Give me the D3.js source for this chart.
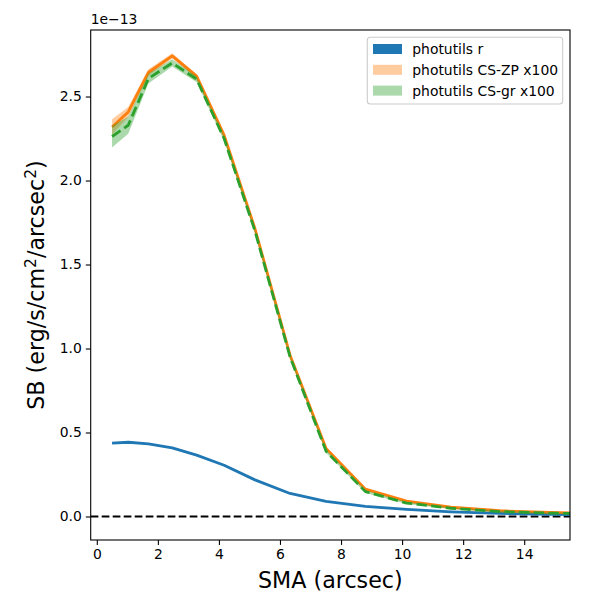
<!DOCTYPE html>
<html>
<head>
<meta charset="utf-8">
<script src="https://cdn.jsdelivr.net/npm/d3@7"></script>
<style>
  body { margin:0; background:#ffffff; }
  text { font-family:"DejaVu Sans", sans-serif; fill:#000000; }
</style>
</head>
<body>
<div id="chart_container"></div>
<script>
// Surface brightness values are in units of 1e-13 erg/s/cm2/arcsec2.
var sma_arcsec      = [0.5, 1.03, 1.69, 2.47, 3.27, 4.17, 5.18, 6.33, 7.51, 8.80, 10.15, 11.60, 13.20, 14.85, 16.60];
var sb_r            = [0.437, 0.442, 0.432, 0.408, 0.365, 0.305, 0.218, 0.137, 0.090, 0.060, 0.042, 0.028, 0.018, 0.013, 0.009];
var sb_r_err        = [0.004, 0.004, 0.004, 0.003, 0.003, 0.003, 0.003, 0.002, 0.002, 0.002, 0.002, 0.002, 0.002, 0.002, 0.002];
var sb_cs_zp        = [2.319, 2.408, 2.643, 2.742, 2.621, 2.270, 1.714, 0.960, 0.405, 0.163, 0.091, 0.055, 0.034, 0.024, 0.018];
var sb_cs_zp_err    = [0.045, 0.030, 0.020, 0.015, 0.012, 0.010, 0.008, 0.007, 0.006, 0.005, 0.004, 0.004, 0.003, 0.003, 0.003];
var sb_cs_gr        = [2.262, 2.329, 2.607, 2.700, 2.603, 2.250, 1.700, 0.950, 0.388, 0.148, 0.080, 0.049, 0.029, 0.020, 0.015];
var sb_cs_gr_err    = [0.065, 0.050, 0.030, 0.022, 0.018, 0.015, 0.012, 0.010, 0.009, 0.008, 0.006, 0.005, 0.005, 0.004, 0.004];
var x_tick_values   = [0, 2, 4, 6, 8, 10, 12, 14];
var y_tick_values   = [0.0, 0.5, 1.0, 1.5, 2.0, 2.5];
var legend_labels   = ["photutils r", "photutils CS-ZP x100", "photutils CS-gr x100"];

var chart_dimension = { height:600, width:600 };
var chart_box       = { left:90.7, right:570, top:30, bottom:540 };

var scale_x = d3.scaleLinear().domain([-0.2, 15.5]).range([chart_box.left, chart_box.right]);
var scale_y = d3.scaleLinear().domain([-0.14, 2.896]).range([chart_box.bottom, chart_box.top]);

var chart_svg = d3.select("#chart_container").append("svg")
  .attr("height", chart_dimension.height)
  .attr("width" , chart_dimension.width);

chart_svg.append("defs").append("clipPath")
  .attr("id", "plot_clip")
  .append("rect")
  .attr("x"     , chart_box.left)
  .attr("y"     , chart_box.top)
  .attr("width" , chart_box.right - chart_box.left)
  .attr("height", chart_box.bottom - chart_box.top);

var plot_group = chart_svg.append("g").attr("clip-path", "url(#plot_clip)");

// Zero reference line.
plot_group.append("line")
  .attr("x1", chart_box.left)
  .attr("x2", chart_box.right)
  .attr("y1", scale_y(0))
  .attr("y2", scale_y(0))
  .style("stroke", "#000000")
  .style("stroke-width", 2)
  .style("stroke-dasharray", "7.7,3.3");

function draw_profile (_values, _errors, _color, _band_opacity, _dash) {
  var rows = sma_arcsec.map(function (d, i) {
    return { x:d, y:_values[i], e:_errors[i] };
  });
  var band = d3.area()
    .x (function (d) { return scale_x(d.x); })
    .y0(function (d) { return scale_y(d.y - d.e); })
    .y1(function (d) { return scale_y(d.y + d.e); });
  var line = d3.line()
    .x(function (d) { return scale_x(d.x); })
    .y(function (d) { return scale_y(d.y); });
  plot_group.append("path")
    .attr("d", band(rows))
    .style("fill", _color)
    .style("fill-opacity", _band_opacity)
    .style("stroke", "none");
  plot_group.append("path")
    .attr("d", line(rows))
    .style("fill", "none")
    .style("stroke", _color)
    .style("stroke-width", 2.8)
    .style("stroke-linejoin", "round")
    .style("stroke-dasharray", _dash);
}

draw_profile(sb_r    , sb_r_err    , "#1f77b4", 1.0, null);
draw_profile(sb_cs_zp, sb_cs_zp_err, "#ff7f0e", 0.4, null);
draw_profile(sb_cs_gr, sb_cs_gr_err, "#2ca02c", 0.4, "10.3,4.4");

// Axes.
var axis_x = d3.axisBottom(scale_x).tickValues(x_tick_values).tickSize(4.9).tickPadding(4).tickFormat(d3.format("d"));
var axis_y = d3.axisLeft(scale_y).tickValues(y_tick_values).tickSize(4.9).tickPadding(4).tickFormat(d3.format(".1f"));

var axis_x_group = chart_svg.append("g")
  .attr("transform", "translate(0," + chart_box.bottom + ")")
  .call(axis_x);
var axis_y_group = chart_svg.append("g")
  .attr("transform", "translate(" + chart_box.left + ",0)")
  .call(axis_y);

[axis_x_group, axis_y_group].forEach(function (g) {
  g.select(".domain").remove();
  g.selectAll(".tick line").style("stroke", "#000000").style("stroke-width", 1.1);
  g.selectAll(".tick text")
    .style("font-family", "DejaVu Sans")
    .style("font-size", "13.9px")
    .style("fill", "#000000");
});

chart_svg.append("rect")
  .attr("x"     , chart_box.left)
  .attr("y"     , chart_box.top)
  .attr("width" , chart_box.right - chart_box.left)
  .attr("height", chart_box.bottom - chart_box.top)
  .style("fill", "none")
  .style("stroke", "#000000")
  .style("stroke-width", 1.1);

// Offset text and axis labels.
chart_svg.append("text")
  .attr("x", chart_box.left)
  .attr("y", chart_box.top - 6)
  .style("font-size", "13.9px")
  .text("1e\u221213");

chart_svg.append("text")
  .attr("x", (chart_box.left + chart_box.right)/2)
  .attr("y", 588)
  .attr("text-anchor", "middle")
  .style("font-size", "22.2px")
  .text("SMA (arcsec)");

var label_y = chart_svg.append("text")
  .attr("transform", "translate(44," + (chart_box.top + chart_box.bottom)/2 + ") rotate(-90)")
  .attr("text-anchor", "middle")
  .style("font-size", "22.2px");
label_y.append("tspan").text("SB (erg/s/cm");
label_y.append("tspan").attr("dy", -8).style("font-size", "15.5px").text("2");
label_y.append("tspan").attr("dy", 8).text("/arcsec");
label_y.append("tspan").attr("dy", -8).style("font-size", "15.5px").text("2");
label_y.append("tspan").attr("dy", 8).text(")");

// Legend.
var legend_colors   = ["#1f77b4", "#ff7f0e", "#2ca02c"];
var legend_opacity  = [1.0, 0.4, 0.4];
var legend_group    = chart_svg.append("g");
legend_group.append("rect")
  .attr("x", 367.3)
  .attr("y", 37.3)
  .attr("width", 195.4)
  .attr("height", 66.7)
  .attr("rx", 3)
  .style("fill", "#ffffff")
  .style("fill-opacity", 0.8)
  .style("stroke", "#cccccc")
  .style("stroke-width", 1.1);
for (var i = 0; i < legend_labels.length; i ++) {
  var row_y = 49 + i*20.8;
  legend_group.append("rect")
    .attr("x", 373)
    .attr("y", row_y - 5)
    .attr("width", 29)
    .attr("height", 10)
    .style("fill", legend_colors[i])
    .style("fill-opacity", legend_opacity[i]);
  legend_group.append("text")
    .attr("x", 412.3)
    .attr("y", row_y + 5)
    .style("font-size", "13.9px")
    .text(legend_labels[i]);
}
</script>
</body>
</html>
